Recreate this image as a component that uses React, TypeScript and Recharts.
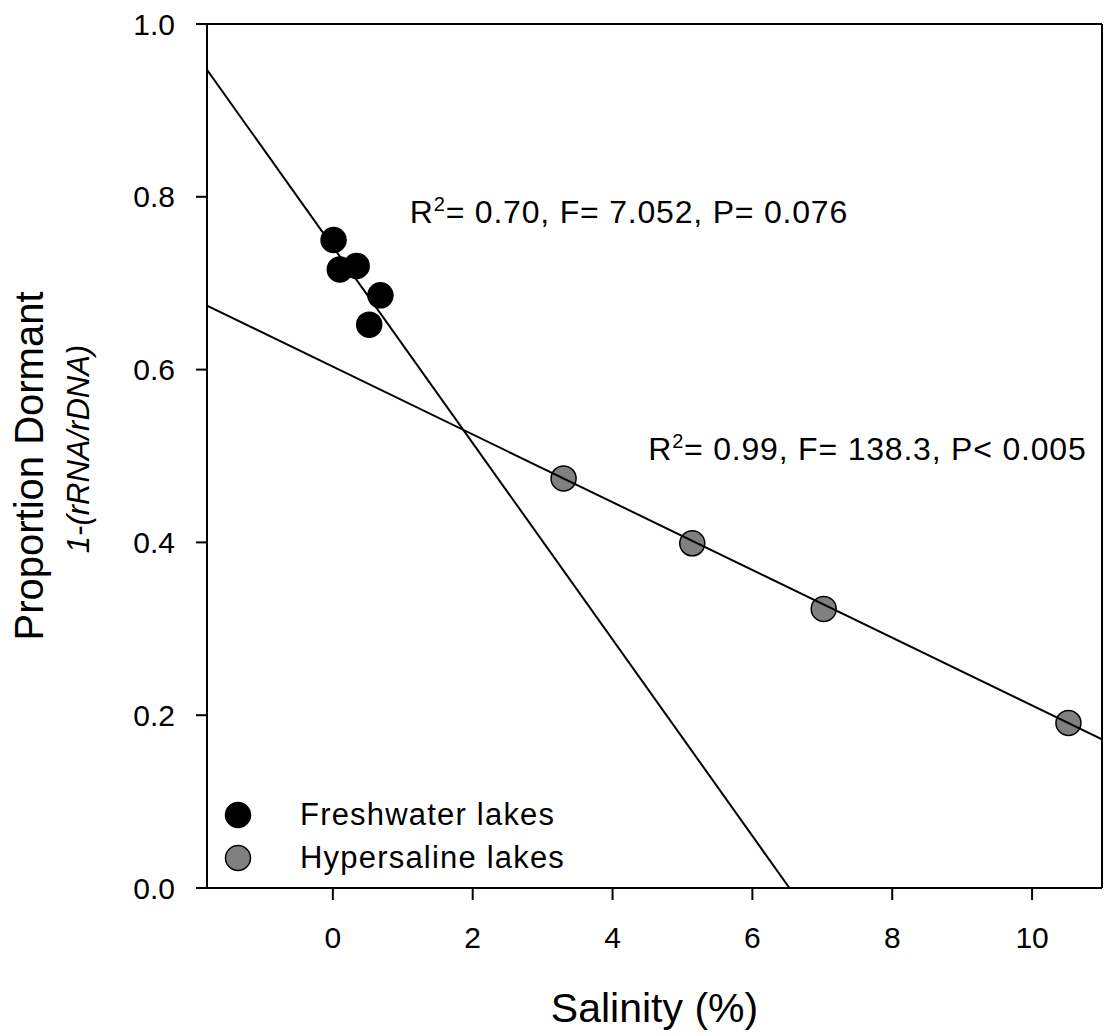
import React from 'react';
import { ScatterChart, Scatter, XAxis, YAxis, ReferenceDot, ReferenceLine } from 'recharts';

// values
const freshSalinity = [0.01, 0.1, 0.34, 0.68, 0.52];
const freshDormant = [0.75, 0.716, 0.72, 0.686, 0.652];
const hyperSalinity = [3.3, 5.14, 7.02, 10.52];
const hyperDormant = [0.474, 0.399, 0.323, 0.191];

// regression line end points
const freshFitX = [-1.8, 6.53];
const freshFitY = [0.947, 0];
const hyperFitX = [-1.8, 11];
const hyperFitY = [0.674, 0.172];

const xTicks = [0, 2, 4, 6, 8, 10];
const yTicks = [0, 0.2, 0.4, 0.6, 0.8, 1.0];
const seriesNames = ['Freshwater lakes', 'Hypersaline lakes'];
const seriesFills = ['#000000', '#808080'];
const statTexts = ['= 0.70, F= 7.052, P= 0.076', '= 0.99, F= 138.3, P< 0.005'];

const FONT = '"Liberation Sans", Arial, sans-serif';

const toPoints = (xs: number[], ys: number[]) => xs.map((x, i) => ({ x, y: ys[i] }));

const freshData = toPoints(freshSalinity, freshDormant);
const hyperData = toPoints(hyperSalinity, hyperDormant);
const freshFit = toPoints(freshFitX, freshFitY);
const hyperFit = toPoints(hyperFitX, hyperFitY);

const dot = (fill: string) => (p: any) => (
  <circle cx={p.cx} cy={p.cy} r={12.5} fill={fill} stroke="#000" strokeWidth={1.5} />
);

const noDot = () => <g />;

const statLabel = (text: string) => (p: any) => (
  <text x={p.cx} y={p.cy} fontSize={32} letterSpacing={0.8} fontFamily={FONT} fill="#000">
    R
    <tspan dy={-12} fontSize={20}>2</tspan>
    <tspan dy={12} fontSize={32}>{text}</tspan>
  </text>
);

const xTitle = (props: any) => {
  const vb = props.viewBox || { x: 207, y: 888, width: 895, height: 148 };
  return (
    <text x={vb.x + vb.width / 2} y={vb.y + 134} textAnchor="middle" fontSize={41} fontFamily={FONT} fill="#000">
      Salinity (%)
    </text>
  );
};

const yTitle = (props: any) => {
  const vb = props.viewBox || { x: 0, y: 24, width: 207, height: 864 };
  const cy = vb.y + vb.height / 2;
  const x1 = vb.x + 43;
  const x2 = vb.x + 89;
  return (
    <g>
      <text x={x1} y={cy + 10} transform={`rotate(-90, ${x1}, ${cy + 10})`} textAnchor="middle" fontSize={40} fontFamily={FONT} fill="#000">
        Proportion Dormant
      </text>
      <text x={x2} y={cy - 7} transform={`rotate(-90, ${x2}, ${cy - 7})`} textAnchor="middle" fontSize={31} fontStyle="italic" fontFamily={FONT} fill="#000">
        1-(rRNA/rDNA)
      </text>
    </g>
  );
};

const axisStroke = { stroke: '#000', strokeWidth: 2 };
const tickStyle = { fill: '#000', fontSize: 30, fontFamily: FONT };

export default function App() {
  return (
    <div style={{ position: 'absolute', left: 0, top: 0, width: 1104, height: 1036, background: '#fff' }}>
      <ScatterChart width={1104} height={1036} margin={{ top: 24, right: 2, bottom: 0, left: 0 }}>
        <XAxis
          type="number"
          dataKey="x"
          domain={[-1.8, 11]}
          ticks={xTicks}
          allowDataOverflow
          height={148}
          tickSize={12}
          tickMargin={27}
          axisLine={axisStroke}
          tickLine={axisStroke}
          tick={tickStyle}
          label={xTitle}
        />
        <YAxis
          type="number"
          dataKey="y"
          domain={[0, 1]}
          ticks={yTicks}
          allowDataOverflow
          width={207}
          tickSize={11}
          tickMargin={21}
          tickFormatter={(v: number) => v.toFixed(1)}
          axisLine={axisStroke}
          tickLine={axisStroke}
          tick={tickStyle}
          label={yTitle}
        />

        <ReferenceLine y={1} stroke="#000" strokeWidth={2} />
        <ReferenceLine x={11} stroke="#000" strokeWidth={2} />

        <Scatter name={seriesNames[0]} data={freshData} fill={seriesFills[0]} shape={dot(seriesFills[0])} isAnimationActive={false} />
        <Scatter name={seriesNames[1]} data={hyperData} fill={seriesFills[1]} shape={dot(seriesFills[1])} isAnimationActive={false} />
        <Scatter data={freshFit} line={{ stroke: '#000', strokeWidth: 2 }} shape={noDot} legendType="none" isAnimationActive={false} />
        <Scatter data={hyperFit} line={{ stroke: '#000', strokeWidth: 2 }} shape={noDot} legendType="none" isAnimationActive={false} />

        <ReferenceDot x={1.1} y={0.77} r={0} shape={statLabel(statTexts[0])} />
        <ReferenceDot x={4.51} y={0.495} r={0} shape={statLabel(statTexts[1])} />
      </ScatterChart>

      <div style={{ position: 'absolute', left: 224, top: 793, fontFamily: FONT, fontSize: 31, letterSpacing: 1.2, color: '#000' }}>
        {seriesNames.map((name, i) => (
          <div key={name} style={{ display: 'flex', alignItems: 'center', height: 43 }}>
            <svg width={28} height={28} style={{ flex: 'none' }}>
              <circle cx={14} cy={14} r={12.5} fill={seriesFills[i]} stroke="#000" strokeWidth={1.5} />
            </svg>
            <span style={{ marginLeft: 48, lineHeight: '43px', whiteSpace: 'nowrap' }}>{name}</span>
          </div>
        ))}
      </div>
    </div>
  );
}
